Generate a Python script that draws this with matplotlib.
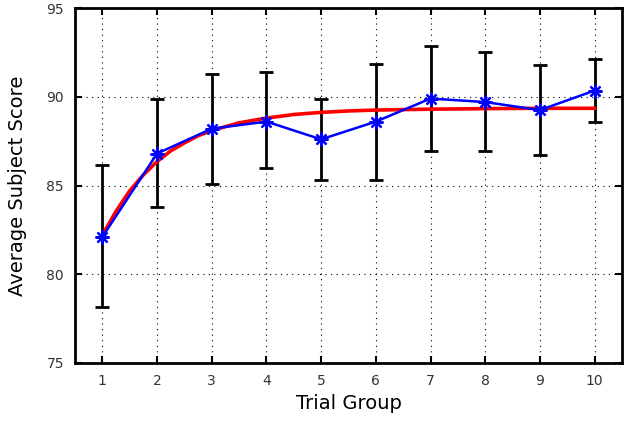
import matplotlib
matplotlib.use("Agg")
import matplotlib.pyplot as plt

# Data
trial_groups = [1, 2, 3, 4, 5, 6, 7, 8, 9, 10]
mean_scores = [82.1, 86.8, 88.2, 88.6, 87.6, 88.6, 89.9, 89.7, 89.25, 90.35]
err_lower = [78.15, 83.8, 85.1, 86.0, 85.3, 85.3, 86.95, 86.95, 86.7, 88.6]
err_upper = [86.15, 89.85, 91.3, 91.4, 89.9, 91.85, 92.85, 92.5, 91.8, 92.1]

fit_x = [1, 1.25, 1.5, 1.75, 2, 2.25, 2.5, 2.75, 3, 3.5, 4, 4.5, 5, 5.5, 6, 7, 8, 9, 10]
fit_y = [82.2, 83.55, 84.7, 85.6, 86.35, 86.95, 87.4, 87.8, 88.1, 88.53, 88.8, 89.0,
         89.12, 89.2, 89.25, 89.3, 89.33, 89.35, 89.35]

x_ticks = [1, 2, 3, 4, 5, 6, 7, 8, 9, 10]
y_ticks = [75, 80, 85, 90, 95]

plt.rcParams['font.family'] = ['DejaVu Sans']

fig = plt.figure(figsize=(6.36, 4.24), dpi=100)
ax = fig.add_axes([75/636, 61/424, 547/636, 355/424])

yerr = [[m - l for m, l in zip(mean_scores, err_lower)],
        [u - m for m, u in zip(mean_scores, err_upper)]]

ax.errorbar(trial_groups, mean_scores, yerr=yerr, fmt='none', ecolor='black',
            elinewidth=2.0, capsize=5, capthick=2.0, zorder=2)
ax.plot(fit_x, fit_y, color='red', lw=2.6, zorder=3)
ax.plot(trial_groups, mean_scores, color='blue', lw=1.8, marker=(8, 2, 0),
        markersize=10, markeredgewidth=1.6, markeredgecolor='blue', zorder=4)

ax.set_xlim(0.5, 10.5)
ax.set_ylim(75, 95)
ax.set_xticks(x_ticks)
ax.set_yticks(y_ticks)
ax.tick_params(direction='in', top=True, right=True, length=5, width=1.5,
               labelsize=10, labelcolor='#333333', pad=8)
ax.grid(True, linestyle=(0, (1, 4)), color='black', linewidth=0.8)
for s in ax.spines.values():
    s.set_linewidth(2.0)

ax.set_xlabel('Trial Group', fontsize=14, labelpad=4)
ax.set_ylabel('Average Subject Score', fontsize=14, labelpad=14)

fig.savefig('out.png', dpi=100)
